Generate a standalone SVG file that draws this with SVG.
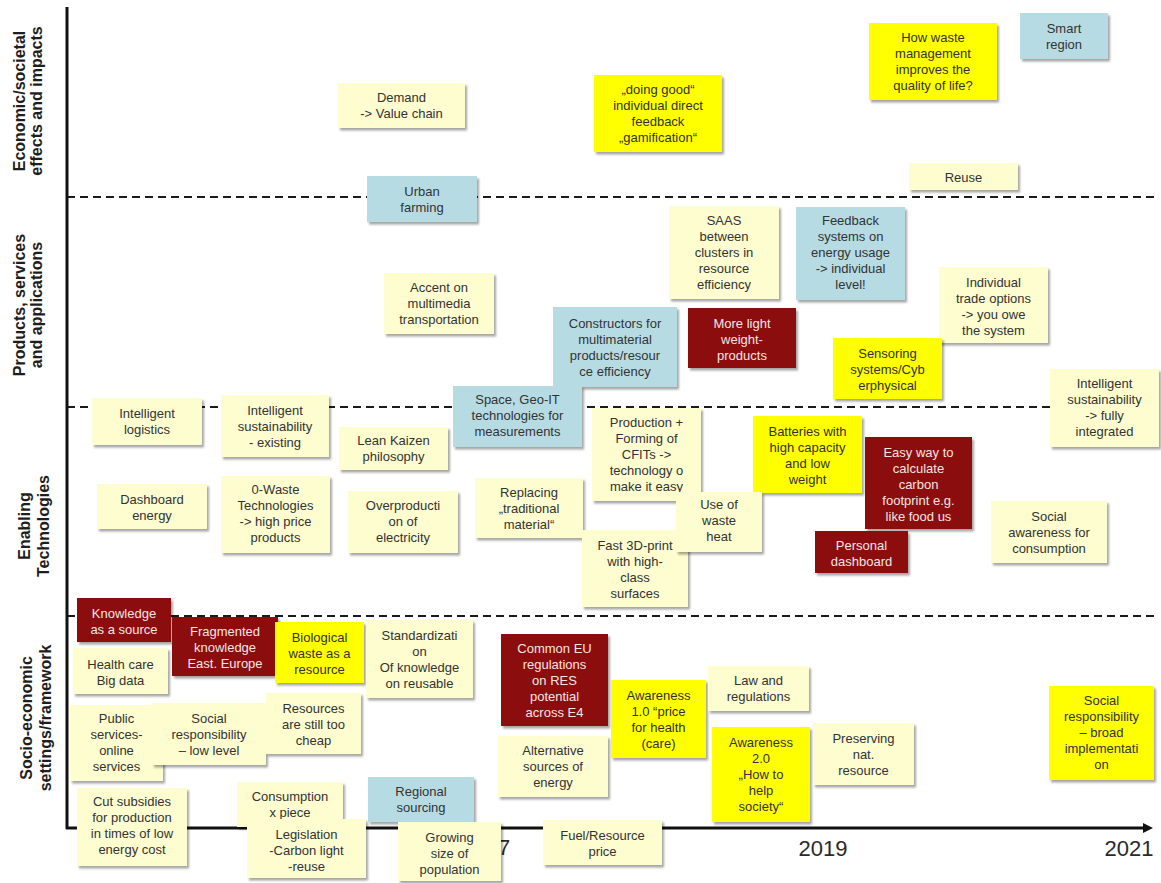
<svg xmlns="http://www.w3.org/2000/svg" width="1161" height="883" viewBox="0 0 1161 883">
<style>
.ly{fill:#fdfdcf}
.bl{fill:#b6dbe3}
.ye{fill:#ffff00}
.dr{fill:#8b0a0a}
rect{filter:url(#sh)}
text{font-family:"Liberation Sans",Arial,sans-serif}
.t{font-size:13px;fill:#333333;text-anchor:middle}
.w{fill:#f5e4e4}
.lab{font-size:16px;font-weight:bold;fill:#1e1e1e;text-anchor:middle}
.yr{font-size:22px;fill:#2a2a2a;text-anchor:middle}
.dash{stroke:#1a1a1a;stroke-width:2.2;stroke-dasharray:8 5;fill:none}
.axis{stroke:#111;stroke-width:3;fill:none}
</style>
<defs>
<filter id="sh" x="-10%" y="-10%" width="130%" height="130%">
<feDropShadow dx="2" dy="2.5" stdDeviation="1.2" flood-color="#000" flood-opacity="0.35"/>
</filter>
<marker id="arr" markerWidth="10" markerHeight="10" refX="2" refY="5" orient="auto" markerUnits="userSpaceOnUse">
<path d="M0,0 L10,5 L0,10 z" fill="#111"/>
</marker>
</defs>
<rect x="0" y="0" width="1161" height="883" fill="#ffffff" style="filter:none"/>

<g id="connectors">
<line class="dash" x1="67" y1="197" x2="1155" y2="197"/>
<line class="dash" x1="67" y1="407" x2="1155" y2="407"/>
<line class="dash" x1="67" y1="616" x2="1155" y2="616"/>
<line class="axis" x1="67" y1="7" x2="67" y2="829"/>
<line class="axis" x1="66" y1="828" x2="1145" y2="828" marker-end="url(#arr)"/>
</g>

<g id="labels">
<text class="lab" transform="rotate(-90)"><tspan x="-101" y="25">Economic/societal</tspan><tspan x="-101" y="42">effects and impacts</tspan></text>
<text class="lab" transform="rotate(-90)"><tspan x="-305" y="25">Products, services</tspan><tspan x="-305" y="42">and applications</tspan></text>
<text class="lab" transform="rotate(-90)"><tspan x="-526" y="30">Enabling</tspan><tspan x="-526" y="49">Technologies</tspan></text>
<text class="lab" transform="rotate(-90)"><tspan x="-718" y="32">Socio-economic</tspan><tspan x="-718" y="51">settings/framework</tspan></text>
<text class="yr" x="823" y="856">2019</text>
<text class="yr" x="1129" y="856">2021</text>
<text class="yr" x="504" y="855">7</text>
</g>

<g id="n-demand"><rect class="ly" x="338" y="83" width="127" height="45"/><text class="t"><tspan x="401.5" y="101.5">Demand</tspan><tspan x="401.5" y="117.5">-&gt; Value chain</tspan></text></g>
<g id="n-urban"><rect class="bl" x="367" y="176" width="110" height="46"/><text class="t"><tspan x="422" y="195.5">Urban</tspan><tspan x="422" y="211.5">farming</tspan></text></g>
<g id="n-accent"><rect class="ly" x="384" y="273" width="110" height="61"/><text class="t"><tspan x="439" y="291.5">Accent on</tspan><tspan x="439" y="307.5">multimedia</tspan><tspan x="439" y="323.5">transportation</tspan></text></g>
<g id="n-doinggood"><rect class="ye" x="594" y="75" width="128" height="77"/><text class="t"><tspan x="658" y="93.5">„doing good“</tspan><tspan x="658" y="109.5">individual direct</tspan><tspan x="658" y="125.5">feedback</tspan><tspan x="658" y="141.5">„gamification“</tspan></text></g>
<g id="n-waste"><rect class="ye" x="869" y="23" width="128" height="77"/><text class="t"><tspan x="933" y="42">How waste</tspan><tspan x="933" y="58">management</tspan><tspan x="933" y="74">improves the</tspan><tspan x="933" y="90">quality of life?</tspan></text></g>
<g id="n-smart"><rect class="bl" x="1020" y="13" width="88" height="46"/><text class="t"><tspan x="1064" y="32.5">Smart</tspan><tspan x="1064" y="48.5">region</tspan></text></g>
<g id="n-reuse"><rect class="ly" x="909" y="163" width="109" height="27"/><text class="t"><tspan x="963.5" y="181.5">Reuse</tspan></text></g>
<g id="n-saas"><rect class="ly" x="669" y="206" width="110" height="93"/><text class="t"><tspan x="724" y="224.5">SAAS</tspan><tspan x="724" y="240.5">between</tspan><tspan x="724" y="256.5">clusters in</tspan><tspan x="724" y="272.5">resource</tspan><tspan x="724" y="288.5">efficiency</tspan></text></g>
<g id="n-feedback"><rect class="bl" x="796" y="207" width="109" height="93"/><text class="t"><tspan x="850.5" y="224.5">Feedback</tspan><tspan x="850.5" y="240.5">systems on</tspan><tspan x="850.5" y="256.5">energy usage</tspan><tspan x="850.5" y="272.5">-&gt; individual</tspan><tspan x="850.5" y="288.5">level!</tspan></text></g>
<g id="n-trade"><rect class="ly" x="939" y="267" width="109" height="76"/><text class="t"><tspan x="993.5" y="286.5">Individual</tspan><tspan x="993.5" y="302.5">trade options</tspan><tspan x="993.5" y="318.5">-&gt; you owe</tspan><tspan x="993.5" y="334.5">the system</tspan></text></g>
<g id="n-constructors"><rect class="bl" x="553" y="307" width="124" height="80"/><text class="t"><tspan x="615" y="327.5">Constructors for</tspan><tspan x="615" y="343.5">multimaterial</tspan><tspan x="615" y="359.5">products/resour</tspan><tspan x="615" y="375.5">ce efficiency</tspan></text></g>
<g id="n-morelight"><rect class="dr" x="688" y="308" width="108" height="60"/><text class="t w"><tspan x="742" y="327.5">More light</tspan><tspan x="742" y="343.5">weight-</tspan><tspan x="742" y="359.5">products</tspan></text></g>
<g id="n-sensoring"><rect class="ye" x="833" y="338" width="109" height="61"/><text class="t"><tspan x="887.5" y="357.5">Sensoring</tspan><tspan x="887.5" y="373.5">systems/Cyb</tspan><tspan x="887.5" y="389.5">erphysical</tspan></text></g>
<g id="n-intsustfull"><rect class="ly" x="1050" y="369" width="109" height="78"/><text class="t"><tspan x="1104.5" y="387.5">Intelligent</tspan><tspan x="1104.5" y="403.5">sustainability</tspan><tspan x="1104.5" y="419.5">-&gt; fully</tspan><tspan x="1104.5" y="435.5">integrated</tspan></text></g>
<g id="n-logistics"><rect class="ly" x="92" y="398" width="110" height="47"/><text class="t"><tspan x="147" y="417.5">Intelligent</tspan><tspan x="147" y="433.5">logistics</tspan></text></g>
<g id="n-intsustexist"><rect class="ly" x="221" y="395" width="108" height="62"/><text class="t"><tspan x="275" y="414.5">Intelligent</tspan><tspan x="275" y="430.5">sustainability</tspan><tspan x="275" y="446.5">- existing</tspan></text></g>
<g id="n-space"><rect class="bl" x="453" y="386" width="129" height="61"/><text class="t"><tspan x="517.5" y="403.5">Space, Geo-IT</tspan><tspan x="517.5" y="419.5">technologies for</tspan><tspan x="517.5" y="435.5">measurements</tspan></text></g>
<g id="n-lean"><rect class="ly" x="339" y="427" width="109" height="43"/><text class="t"><tspan x="393.5" y="444.5">Lean Kaizen</tspan><tspan x="393.5" y="460.5">philosophy</tspan></text></g>
<g id="n-production"><rect class="ly" x="592" y="408" width="109" height="93"/><text class="t"><tspan x="646.5" y="426.5">Production +</tspan><tspan x="646.5" y="442.5">Forming of</tspan><tspan x="646.5" y="458.5">CFITs -&gt;</tspan><tspan x="646.5" y="474.5">technology o</tspan><tspan x="646.5" y="490.5">make it easy</tspan></text></g>
<g id="n-batteries"><rect class="ye" x="753" y="416" width="109" height="77"/><text class="t"><tspan x="807.5" y="435.5">Batteries with</tspan><tspan x="807.5" y="451.5">high capacity</tspan><tspan x="807.5" y="467.5">and low</tspan><tspan x="807.5" y="483.5">weight</tspan></text></g>
<g id="n-easyway"><rect class="dr" x="865" y="437" width="107" height="92"/><text class="t w"><tspan x="918.5" y="456.5">Easy way to</tspan><tspan x="918.5" y="472.5">calculate</tspan><tspan x="918.5" y="488.5">carbon</tspan><tspan x="918.5" y="504.5">footprint e.g.</tspan><tspan x="918.5" y="520.5">like food us</tspan></text></g>
<g id="n-dashboard"><rect class="ly" x="97" y="484" width="110" height="45"/><text class="t"><tspan x="152" y="503.5">Dashboard</tspan><tspan x="152" y="519.5">energy</tspan></text></g>
<g id="n-zerowaste"><rect class="ly" x="221" y="476" width="109" height="77"/><text class="t"><tspan x="275.5" y="493.5">0-Waste</tspan><tspan x="275.5" y="509.5">Technologies</tspan><tspan x="275.5" y="525.5">-&gt; high price</tspan><tspan x="275.5" y="541.5">products</tspan></text></g>
<g id="n-overprod"><rect class="ly" x="348" y="491" width="110" height="62"/><text class="t"><tspan x="403" y="509.5">Overproducti</tspan><tspan x="403" y="525.5">on of</tspan><tspan x="403" y="541.5">electricity</tspan></text></g>
<g id="n-replacing"><rect class="ly" x="475" y="478" width="108" height="60"/><text class="t"><tspan x="529" y="496.5">Replacing</tspan><tspan x="529" y="512.5">„traditional</tspan><tspan x="529" y="528.5">material“</tspan></text></g>
<g id="n-fast3d"><rect class="ly" x="582" y="530" width="106" height="77"/><text class="t"><tspan x="635" y="549.5">Fast 3D-print</tspan><tspan x="635" y="565.5">with high-</tspan><tspan x="635" y="581.5">class</tspan><tspan x="635" y="597.5">surfaces</tspan></text></g>
<g id="n-useof"><rect class="ly" x="676" y="492" width="86" height="60"/><text class="t"><tspan x="719" y="508.5">Use of</tspan><tspan x="719" y="524.5">waste</tspan><tspan x="719" y="540.5">heat</tspan></text></g>
<g id="n-personal"><rect class="dr" x="815" y="531" width="93" height="42"/><text class="t w"><tspan x="861.5" y="549.5">Personal</tspan><tspan x="861.5" y="565.5">dashboard</tspan></text></g>
<g id="n-socialaware"><rect class="ly" x="991" y="501" width="116" height="62"/><text class="t"><tspan x="1049" y="520.5">Social</tspan><tspan x="1049" y="536.5">awareness for</tspan><tspan x="1049" y="552.5">consumption</tspan></text></g>
<g id="n-knowledge"><rect class="dr" x="77" y="598" width="94" height="44"/><text class="t w"><tspan x="124" y="617.5">Knowledge</tspan><tspan x="124" y="633.5">as a source</tspan></text></g>
<g id="n-fragmented"><rect class="dr" x="172" y="617" width="106" height="59"/><text class="t w"><tspan x="225" y="635.5">Fragmented</tspan><tspan x="225" y="651.5">knowledge</tspan><tspan x="225" y="667.5">East. Europe</tspan></text></g>
<g id="n-health"><rect class="ly" x="73" y="648" width="95" height="46"/><text class="t"><tspan x="120.5" y="668.5">Health care</tspan><tspan x="120.5" y="684.5">Big data</tspan></text></g>
<g id="n-biological"><rect class="ye" x="275" y="622" width="89" height="61"/><text class="t"><tspan x="319.5" y="641.5">Biological</tspan><tspan x="319.5" y="657.5">waste as a</tspan><tspan x="319.5" y="673.5">resource</tspan></text></g>
<g id="n-standard"><rect class="ly" x="366" y="620" width="107" height="78"/><text class="t"><tspan x="419.5" y="639.5">Standardizati</tspan><tspan x="419.5" y="655.5">on</tspan><tspan x="419.5" y="671.5">Of knowledge</tspan><tspan x="419.5" y="687.5">on reusable</tspan></text></g>
<g id="n-commoneu"><rect class="dr" x="501" y="634" width="107" height="92"/><text class="t w"><tspan x="554.5" y="652.5">Common EU</tspan><tspan x="554.5" y="668.5">regulations</tspan><tspan x="554.5" y="684.5">on RES</tspan><tspan x="554.5" y="700.5">potential</tspan><tspan x="554.5" y="716.5">across E4</tspan></text></g>
<g id="n-public"><rect class="ly" x="70" y="705" width="93" height="76"/><text class="t"><tspan x="116.5" y="722.5">Public</tspan><tspan x="116.5" y="738.5">services-</tspan><tspan x="116.5" y="754.5">online</tspan><tspan x="116.5" y="770.5">services</tspan></text></g>
<g id="n-socialrespLow"><rect class="ly" x="152" y="703" width="114" height="62"/><text class="t"><tspan x="209" y="722.5">Social</tspan><tspan x="209" y="738.5">responsibility</tspan><tspan x="209" y="754.5">– low level</tspan></text></g>
<g id="n-resources"><rect class="ly" x="266" y="693" width="95" height="61"/><text class="t"><tspan x="313.5" y="712.5">Resources</tspan><tspan x="313.5" y="728.5">are still too</tspan><tspan x="313.5" y="744.5">cheap</tspan></text></g>
<g id="n-alternative"><rect class="ly" x="498" y="736" width="110" height="61"/><text class="t"><tspan x="553" y="754.5">Alternative</tspan><tspan x="553" y="770.5">sources of</tspan><tspan x="553" y="786.5">energy</tspan></text></g>
<g id="n-aware1"><rect class="ye" x="611" y="680" width="95" height="78"/><text class="t"><tspan x="658.5" y="699.5">Awareness</tspan><tspan x="658.5" y="715.5">1.0 “price</tspan><tspan x="658.5" y="731.5">for health</tspan><tspan x="658.5" y="747.5">(care)</tspan></text></g>
<g id="n-law"><rect class="ly" x="708" y="666" width="101" height="45"/><text class="t"><tspan x="758.5" y="684.5">Law and</tspan><tspan x="758.5" y="700.5">regulations</tspan></text></g>
<g id="n-aware2"><rect class="ye" x="712" y="727" width="98" height="95"/><text class="t"><tspan x="761" y="746.5">Awareness</tspan><tspan x="761" y="762.5">2.0</tspan><tspan x="761" y="778.5">„How to</tspan><tspan x="761" y="794.5">help</tspan><tspan x="761" y="810.5">society“</tspan></text></g>
<g id="n-preserving"><rect class="ly" x="813" y="723" width="101" height="62"/><text class="t"><tspan x="863.5" y="742.5">Preserving</tspan><tspan x="863.5" y="758.5">nat.</tspan><tspan x="863.5" y="774.5">resource</tspan></text></g>
<g id="n-socialrespBroad"><rect class="ye" x="1049" y="686" width="105" height="94"/><text class="t"><tspan x="1101.5" y="704.5">Social</tspan><tspan x="1101.5" y="720.5">responsibility</tspan><tspan x="1101.5" y="736.5">– broad</tspan><tspan x="1101.5" y="752.5">implementati</tspan><tspan x="1101.5" y="768.5">on</tspan></text></g>
<g id="n-cutsubsidies"><rect class="ly" x="77" y="788" width="110" height="78"/><text class="t"><tspan x="132" y="805.5">Cut subsidies</tspan><tspan x="132" y="821.5">for production</tspan><tspan x="132" y="837.5">in times of low</tspan><tspan x="132" y="853.5">energy cost</tspan></text></g>
<g id="n-consumption"><rect class="ly" x="237" y="782" width="106" height="45"/><text class="t"><tspan x="290" y="800.5">Consumption</tspan><tspan x="290" y="816.5">x piece</tspan></text></g>
<g id="n-legislation"><rect class="ly" x="247" y="819" width="119" height="59"/><text class="t"><tspan x="306.5" y="838.5">Legislation</tspan><tspan x="306.5" y="854.5">-Carbon light</tspan><tspan x="306.5" y="870.5">-reuse</tspan></text></g>
<g id="n-regional"><rect class="bl" x="368" y="777" width="106" height="45"/><text class="t"><tspan x="421" y="795.5">Regional</tspan><tspan x="421" y="811.5">sourcing</tspan></text></g>
<g id="n-growing"><rect class="ly" x="398" y="822" width="103" height="59"/><text class="t"><tspan x="449.5" y="841.5">Growing</tspan><tspan x="449.5" y="857.5">size of</tspan><tspan x="449.5" y="873.5">population</tspan></text></g>
<g id="n-fuel"><rect class="ly" x="543" y="820" width="119" height="45"/><text class="t"><tspan x="602.5" y="839.5">Fuel/Resource</tspan><tspan x="602.5" y="855.5">price</tspan></text></g>
</svg>
